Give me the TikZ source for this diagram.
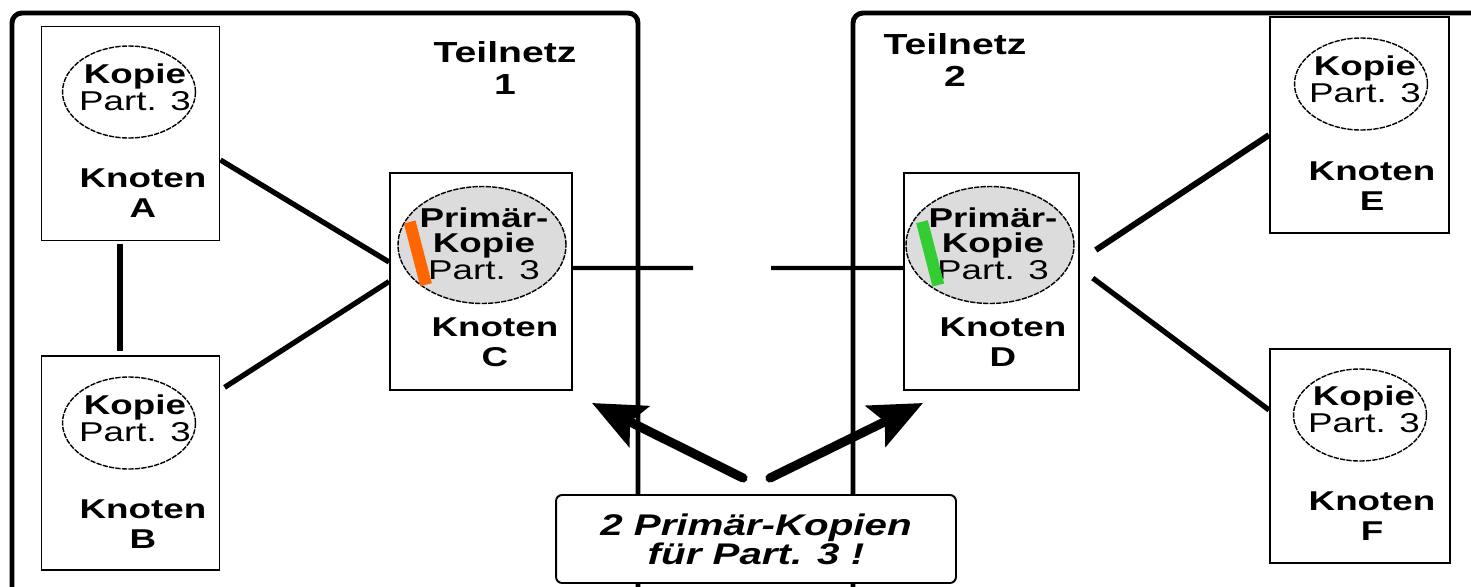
\documentclass[tikz,border=0pt]{standalone}
\usepackage{fontspec}
\newfontfamily\dia[FakeStretch=1.35]{Liberation Sans}
\usetikzlibrary{shapes.geometric,arrows.meta}

\definecolor{primgrau}{HTML}{DCDCDC}
\definecolor{markorange}{HTML}{FF6600}
\definecolor{markgruen}{HTML}{33CC33}

\tikzset{
	netz/.style={line width=2.8pt, rounded corners=0.2cm},
	knoten/.style={draw, line width=1.1pt, minimum width=3.56cm, minimum height=4.28cm, inner sep=0pt},
	kopie/.style={draw, ellipse, line width=0.8pt, dash pattern=on 3pt off 0.7pt,
		minimum width=2.66cm, minimum height=1.84cm, inner sep=0pt},
	primaer/.style={kopie, fill=primgrau, minimum width=3.36cm, minimum height=2.34cm},
	txt/.style={font=\dia\fontsize{15.5}{15.4}\selectfont, align=center, inner sep=0pt},
	bez/.style={txt, font=\dia\bfseries\fontsize{15.5}{17}\selectfont},
	link/.style={line width=3pt},
	hinweis/.style={line width=5.2pt, line cap=round, -{Stealth[length=1.05cm, width=0.9cm, inset=0.2cm]}}
}

\begin{document}
\begin{tikzpicture}[x=0.02cm, y=-0.02cm]
	\useasboundingbox (0,0) rectangle (1471,586);
	\clip (0,0) rectangle (1471,586);

	% die beiden Teilnetze
	\draw[netz] (12,13) rectangle (638,600);
	\draw[netz] (853,13) rectangle (1490,600);
	\node[bez, font=\dia\bfseries\fontsize{16.5}{18.7}\selectfont] (t1) at (505,68) {Teilnetz\\1};
	\node[bez, font=\dia\bfseries\fontsize{16.5}{18.7}\selectfont] (t2) at (955,60) {Teilnetz\\2};

	% Knoten
	\node[knoten] (A) at (130.5,133.5) {};
	\node[knoten] (B) at (130.5,463) {};
	\node[knoten, minimum width=3.64cm, minimum height=4.34cm] (C) at (481,281.5) {};
	\node[knoten, minimum width=3.5cm, minimum height=4.34cm] (D) at (991.5,281.5) {};
	\node[knoten, minimum width=3.58cm, minimum height=4.32cm] (E) at (1359.5,125) {};
	\node[knoten, minimum width=3.6cm] (F) at (1360,456) {};

	% Kopien
	\node[kopie] (kA) at (129,92) {};
	\node[kopie] (kB) at (129,423) {};
	\node[kopie] (kE) at (1361,84) {};
	\node[kopie] (kF) at (1360,415) {};
	\node[primaer] (kC) at (482,245) {};
	\node[primaer] (kD) at (990,245) {};

	\node[txt] (tA) at (135,87) {\textbf{Kopie}\\Part. 3};
	\node[txt] (tB) at (135,418) {\textbf{Kopie}\\Part. 3};
	\node[txt] (tE) at (1365,79) {\textbf{Kopie}\\Part. 3};
	\node[txt] (tF) at (1364,409) {\textbf{Kopie}\\Part. 3};
	\node[txt] (tC) at (484,244) {\textbf{Primär-}\\[-1pt]\textbf{Kopie}\\Part. 3};
	\node[txt] (tD) at (993,244) {\textbf{Primär-}\\[-1pt]\textbf{Kopie}\\Part. 3};

	\node[bez] (nA) at (143,193) {Knoten\\A};
	\node[bez] (nB) at (143,524) {Knoten\\B};
	\node[bez] (nC) at (495,342) {Knoten\\C};
	\node[bez] (nD) at (1003,342) {Knoten\\D};
	\node[bez] (nE) at (1372,186) {Knoten\\E};
	\node[bez] (nF) at (1372,516) {Knoten\\F};

	% Verbindungen
	\draw[link, line width=3.4pt, shorten <=1.5pt, shorten >=2.2pt] ([xshift=-0.21cm]A.south) -- ([xshift=-0.21cm]B.north);
	\draw[link] ([yshift=-0.53cm]A.east) -- ([yshift=0.39cm]C.west);
	\draw[link, shorten <=2.8pt] ([yshift=1.46cm]B.east) -- (C.west);
	\coordinate (cl) at (693,268);
	\coordinate (cr) at (771,268);
	\draw[link, line width=2.3pt] ([yshift=0.27cm]C.east) -- (cl);
	\draw[link, line width=2.3pt] (cr) -- ([yshift=0.27cm]D.west);
	\draw[link, line width=3.4pt, shorten <=0.38cm] ([yshift=0.42cm]D.east) -- ([yshift=-0.2cm]E.west);
	\draw[link, shorten <=0.32cm] ([yshift=0.26cm]D.east) -- ([yshift=0.92cm]F.west);

	% Hinweis
	\node[draw, fill=white, line width=1.1pt, rounded corners=0.12cm, minimum width=8cm, minimum height=1.76cm,
		align=center, font=\dia\bfseries\itshape\fontsize{17}{16.5}\selectfont] (lbl) at (756,539)
		{2 Primär-Kopien\\für Part. 3 !};
	\coordinate (hl) at (743,478);
	\coordinate (pl) at (592,403);
	\coordinate (hr) at (770,478);
	\coordinate (pr) at (923,403);
	\draw[hinweis] (hl) -- (pl);
	\draw[hinweis] (hr) -- (pr);

	% Markierungen
	\draw[line width=0.24cm, markorange] (409.7,222) -- (426,284.7);
	\draw[line width=0.24cm, markgruen] (922,221.7) -- (938.3,285);
\end{tikzpicture}
\end{document}
